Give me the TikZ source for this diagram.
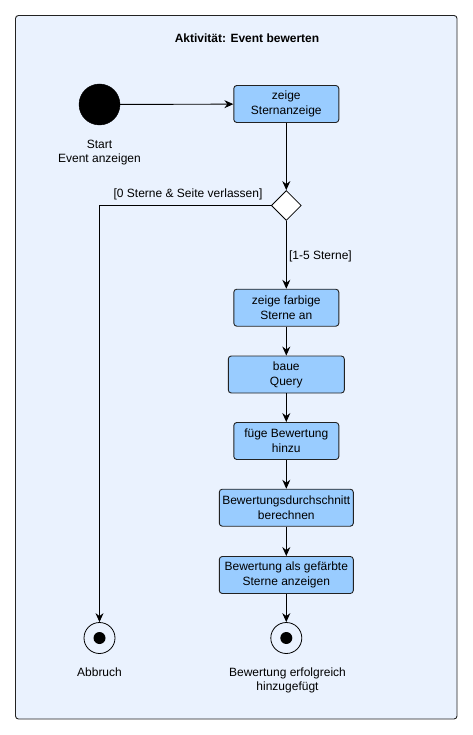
\documentclass[tikz,border=0pt]{standalone}
\usepackage{fontspec}
\setmainfont{Liberation Sans}
\usetikzlibrary{shapes.geometric,arrows.meta}
\definecolor{framebg}{RGB}{234,242,254}
\definecolor{actfill}{RGB}{153,204,255}
\definecolor{edge}{RGB}{34,34,34}
\begin{document}
\begin{tikzpicture}[x=1pt,y=-1pt,
  every node/.style={font=\fontsize{12pt}{15pt}\selectfont, text=black},
  action/.style={draw=edge, line width=0.9pt, fill=actfill, rounded corners=3pt,
    align=center, inner sep=1pt, minimum height=37pt},
  startnode/.style={circle, fill=black, draw=black, minimum size=41pt, inner sep=0pt},
  endnode/.style={circle, draw=black, fill=framebg, line width=0.8pt, minimum size=31pt, inner sep=0pt},
  decision/.style={diamond, draw=black, fill=white, line width=0.8pt, aspect=1,
    minimum width=30pt, minimum height=30pt, inner sep=0pt},
  flow/.style={draw=black, line width=0.9pt, -{Stealth[length=9pt,width=8pt,inset=3pt]}},
  caption/.style={align=center, font=\fontsize{12pt}{14pt}\selectfont}]
  \useasboundingbox (0,0) rectangle (473,735);
  \fill[white] (0,0) rectangle (473,735);
  % activity frame
  \draw[draw=edge, line width=0.9pt, fill=framebg, rounded corners=3pt] (15.5,15.5) rectangle (457,719);
  \node[font=\bfseries\fontsize{12pt}{14pt}\selectfont] (title) at (247,38) {Aktivität: Event bewerten};

  % initial node
  \node[startnode] (start) at (99.5,104.5) {};
  \node[caption] (startlbl) at (99.5,153) {Start\\Event anzeigen};

  % actions
  \node[action, minimum width=105pt] (show) at (286.3,104) {zeige\\Sternanzeige};
  \node[decision] (dec) at (286.3,205.5) {};
  \node[action, minimum width=105pt] (color) at (286.3,307.7) {zeige farbige\\Sterne an};
  \node[action, minimum width=116pt] (query) at (286.3,374.5) {baue\\Query};
  \node[action, minimum width=105pt] (add) at (286.3,441) {füge Bewertung\\hinzu};
  \node[action, minimum width=134pt] (avg) at (286.3,507.7) {Bewertungsdurchschnitt\\berechnen};
  \node[action, minimum width=134pt] (stars) at (286.3,575) {Bewertung als gefärbte\\Sterne anzeigen};

  % final nodes
  \node[endnode] (abort) at (99.5,638) {};
  \fill (abort.center) circle (6pt);
  \node[caption] (abortlbl) at (99.5,672) {Abbruch};
  \node[endnode] (done) at (286.3,638) {};
  \fill (done.center) circle (6pt);
  \node[caption] (donelbl) at (287.5,680) {Bewertung erfolgreich\\hinzugefügt};

  % control flow
  \draw[flow] (start) -- (show);
  \draw[flow] (show) -- (dec);
  \draw[flow] (dec) -- node[right, xshift=-1pt, yshift=-2pt] {[1-5 Sterne]} (color);
  \draw[flow] (dec.west) -| (abort);
  \node (guard) at (188,194) {[0 Sterne \& Seite verlassen]};
  \draw[flow] (color) -- (query);
  \draw[flow] (query) -- (add);
  \draw[flow] (add) -- (avg);
  \draw[flow] (avg) -- (stars);
  \draw[flow] (stars) -- (done);
\end{tikzpicture}
\end{document}
